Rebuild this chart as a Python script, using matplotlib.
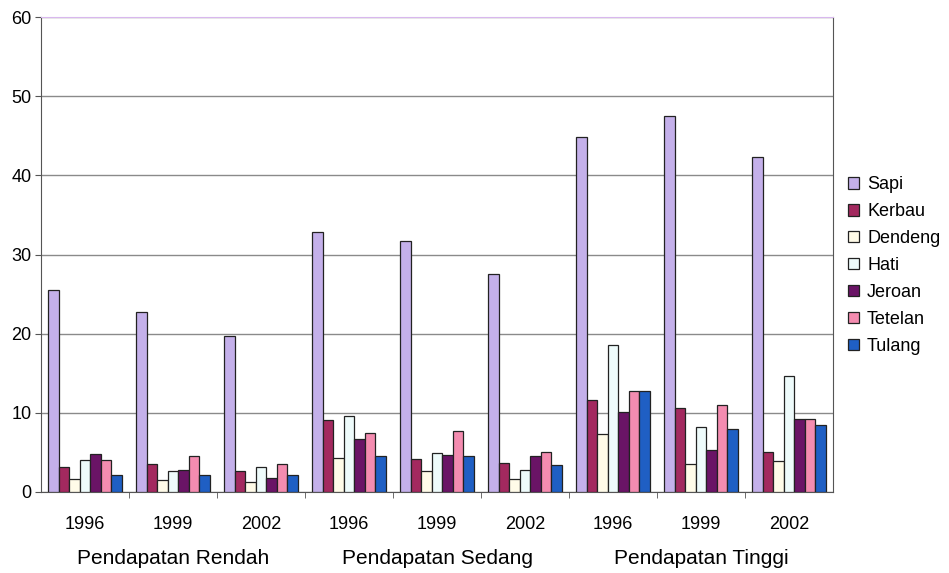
import numpy as np
import matplotlib.pyplot as plt
from matplotlib.transforms import blended_transform_factory

plt.rcParams['font.family'] = ['Liberation Sans', 'DejaVu Sans']

years = ['1996', '1999', '2002'] * 3
groups = ['Pendapatan Rendah', 'Pendapatan Sedang', 'Pendapatan Tinggi']
series = ['Sapi', 'Kerbau', 'Dendeng', 'Hati', 'Jeroan', 'Tetelan', 'Tulang']

sapi    = [25.5, 22.8, 19.7, 32.9, 31.7, 27.5, 44.8, 47.5, 42.3]
kerbau  = [3.2, 3.5, 2.6, 9.1, 4.2, 3.7, 11.6, 10.6, 5.0]
dendeng = [1.7, 1.5, 1.3, 4.3, 2.7, 1.7, 7.3, 3.6, 3.9]
hati    = [4.0, 2.6, 3.1, 9.6, 4.9, 2.8, 18.6, 8.2, 14.7]
jeroan  = [4.8, 2.8, 1.8, 6.7, 4.7, 4.5, 10.1, 5.3, 9.2]
tetelan = [4.1, 4.5, 3.5, 7.4, 7.7, 5.0, 12.8, 11.0, 9.2]
tulang  = [2.2, 2.1, 2.2, 4.5, 4.5, 3.4, 12.8, 7.9, 8.5]

values = [sapi, kerbau, dendeng, hati, jeroan, tetelan, tulang]
colors = ['#c4b0ea', '#a3295f', '#fffbe8', '#eefbfb', '#6a1466', '#f48cb0', '#1f5fc4']

fig = plt.figure(figsize=(9.49, 5.73), dpi=100)
ax = fig.add_axes([41 / 949, 1 - 492 / 573, 792 / 949, 475 / 573])

x = np.arange(len(years))
w = 0.119
for i, (name, vals, c) in enumerate(zip(series, values, colors)):
    ax.bar(x + (i - 3) * w, vals, width=w, color=c, edgecolor='#222222',
           linewidth=0.9, label=name, zorder=3)

ax.set_xlim(-0.5, 8.5)
ax.set_ylim(0, 60)
ax.set_yticks(range(0, 61, 10))
ax.yaxis.grid(True, color='#8a8a8a', linewidth=1.0, zorder=0)
ax.tick_params(axis='y', labelsize=13, length=4, color='#555555', pad=3)

ax.set_xticks(x)
ax.set_xticklabels(years, fontsize=13)
ax.set_xticks(np.arange(0.5, 8.5, 1), minor=True)
ax.tick_params(axis='x', which='major', length=0, pad=17)
ax.tick_params(axis='x', which='minor', length=4, color='#555555')

for side in ['left', 'bottom', 'right']:
    ax.spines[side].set_color('#555555')
ax.spines['top'].set_color('#d9b8ee')

trans = blended_transform_factory(ax.transData, ax.transAxes)
for k, g in enumerate(groups):
    ax.text(3 * k + 1, -0.14, g, transform=trans, ha='center', va='center',
            fontsize=15)

ax.legend(loc='upper left', bbox_to_anchor=(1.01, 0.68), frameon=False,
          fontsize=13, handlelength=0.6, handleheight=0.6, handletextpad=0.45,
          labelspacing=0.55, borderaxespad=0)

fig.savefig('out.png', dpi=100)
